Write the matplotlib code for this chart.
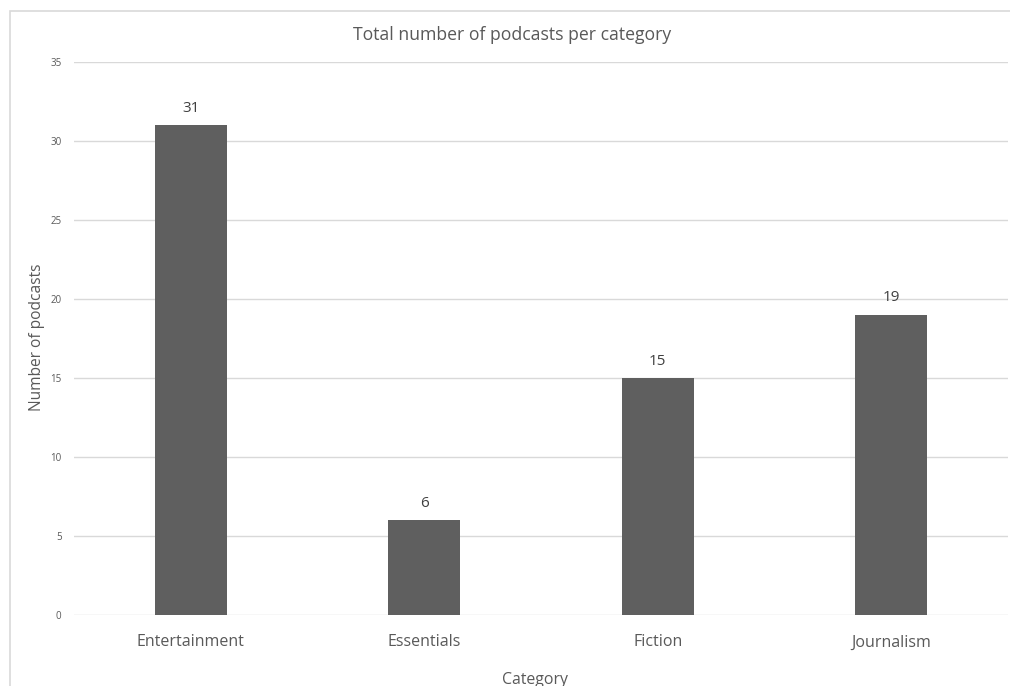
import matplotlib.pyplot as plt
from matplotlib.patches import Rectangle

categories = ["Entertainment", "Essentials", "Fiction", "Journalism"]
counts = [31, 6, 15, 19]

bar_color = "#5f5f5f"
text_color = "#595959"
grid_color = "#d9d9d9"

plt.rcParams["font.family"] = ["Open Sans", "DejaVu Sans"]

fig = plt.figure(figsize=(10.1, 6.86), dpi=100)
ax = fig.add_axes([0.0733, 0.1035, 0.9247, 0.8061])

# chart area frame, cut off on the right and bottom
fig.patches.append(Rectangle((10 / 1010, -0.1), 1.2, 1 - 11 / 686 + 0.1,
                             transform=fig.transFigure, fill=False,
                             edgecolor=grid_color, linewidth=1.2))

x = range(len(categories))
bars = ax.bar(x, counts, width=0.31, color=bar_color, zorder=3)
for b, v in zip(bars, counts):
    ax.text(b.get_x() + b.get_width() / 2, v + 0.6, str(v), ha="center",
            va="bottom", fontsize=11, color="#404040")

ax.set_xlim(-0.5, len(categories) - 0.5)
ax.set_ylim(0, 35)
ax.set_yticks(range(0, 36, 5))
ax.set_xticks(list(x))
ax.set_xticklabels(categories)
ax.yaxis.grid(True, color=grid_color, linewidth=1)
for s in ax.spines.values():
    s.set_visible(False)
ax.tick_params(axis="y", length=0, labelsize=7, labelcolor=text_color, pad=9)
ax.tick_params(axis="x", length=0, labelsize=11.5, labelcolor=text_color, pad=14)

fig.text(512 / 1010, 1 - 35 / 686, "Total number of podcasts per category",
         ha="center", va="center", fontsize=12.7, color=text_color)
fig.text(37 / 1010, 1 - 337 / 686, "Number of podcasts", rotation=90,
         ha="center", va="center", fontsize=11.2, color=text_color)
fig.text(535 / 1010, 1 - 680 / 686, "Category",
         ha="center", va="center", fontsize=11.4, color=text_color)

fig.savefig("out.png", dpi=100)
